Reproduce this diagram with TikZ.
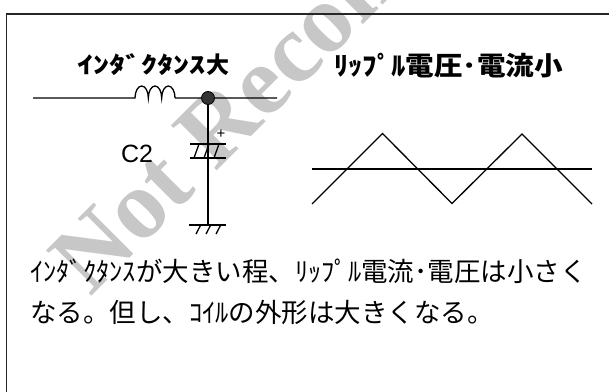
\documentclass[tikz,border=0pt]{standalone}
\usepackage{fontspec}
\usepackage{graphicx}
\newfontfamily\jpfont{Noto Sans CJK JP}
\newfontfamily\arialfont{Liberation Sans}
\newfontfamily\wmfont{Liberation Serif}
\tikzset{
	wire/.style={
		line width=1.3pt
	},
	frame/.style={
		line width=1.5pt,
		draw=black!85
	},
	junction/.style={
		circle,
		draw=black,
		fill=black!80,
		line width=0.8pt,
		minimum size=13pt,
		inner sep=0pt
	},
	title/.style={
		anchor=base west,
		inner sep=0pt,
		font=\jpfont\bfseries\fontsize{23}{23}\selectfont
	},
	body/.style={
		anchor=base west,
		inner sep=0pt,
		font=\jpfont\fontsize{26.5}{26.5}\selectfont
	},
	partlabel/.style={
		inner sep=0pt,
		font=\arialfont\fontsize{25}{25}\selectfont
	},
	polarity/.style={
		inner sep=0pt,
		font=\arialfont\fontsize{15}{15}\selectfont
	},
	wmark/.style={
		anchor=base west,
		rotate=45,
		inner sep=0pt,
		text=black!22,
		font=\wmfont\bfseries\fontsize{98}{98}\selectfont
	}
}

\begin{document}
\begin{tikzpicture}[x=1pt,y=-1pt]
	\useasboundingbox (0,0) rectangle (609,391);
	\clip (0,0) rectangle (609,391);

	% watermark
	\node[wmark] (wm) at (90,298) {Not Recommended};

	% frame
	\draw[frame] (6.5,400) |- (620,14);

	% circuit
	\coordinate (in)   at (33,98);
	\coordinate (lin)  at (135,98);
	\coordinate (lout) at (175,98);
	\coordinate (jn)   at (208,98);
	\coordinate (out)  at (277,98);
	\coordinate (gnd)  at (208,225);

	\draw[wire] (in) -- (lin)
		arc[start angle=180, end angle=360, x radius=6.67, y radius=12]
		arc[start angle=180, end angle=360, x radius=6.67, y radius=12]
		arc[start angle=180, end angle=360, x radius=6.67, y radius=12]
		-- (lout) -- (out);
	\draw[wire] (jn) -- (gnd);

	% capacitor C2
	\draw[wire] (190,144) -- (226,144) (190,158) -- (226,158);
	\foreach \x in {194,204,214}
		\draw[wire] (\x,158) -- (\x+5,144);
	\node[polarity]  (cplus) at (221,134) {+};
	\node[partlabel] (c2)    at (137,154) {C2};

	% ground
	\draw[wire] (189,225) -- (226,225);
	\foreach \x in {196,206,216}
		\draw[wire] (\x+4.7,225) -- (\x,234);

	\node[junction] (dot) at (jn) {};

	% ripple
	\coordinate (ax0) at (312,169);
	\coordinate (ax1) at (592,169);
	\coordinate (w0)  at (312,204);
	\coordinate (w1)  at (382.5,133.5);
	\coordinate (w2)  at (452,203.5);
	\coordinate (w3)  at (522,134);
	\coordinate (w4)  at (592,204);
	\draw[wire] (ax0) -- (ax1);
	\draw[wire] (w0) -- (w1) -- (w2) -- (w3) -- (w4);

	% texts
	\node[title] (ttlL) at (77,73) {\scalebox{1.4}[1]{ｲﾝﾀﾞｸﾀﾝｽ}大};
	\node[title, font=\jpfont\bfseries\fontsize{26}{26}\selectfont]
		(ttlR) at (334,75) {\scalebox{1.1}[1]{ﾘｯﾌﾟﾙ電圧･電流小}};
	\node[body] (line1) at (30,281) {ｲﾝﾀﾞｸﾀﾝｽが大きい程、ﾘｯﾌﾟﾙ電流･電圧は小さく};
	\node[body] (line2) at (30,322) {なる。但し、ｺｲﾙの外形は大きくなる。};
\end{tikzpicture}
\end{document}
